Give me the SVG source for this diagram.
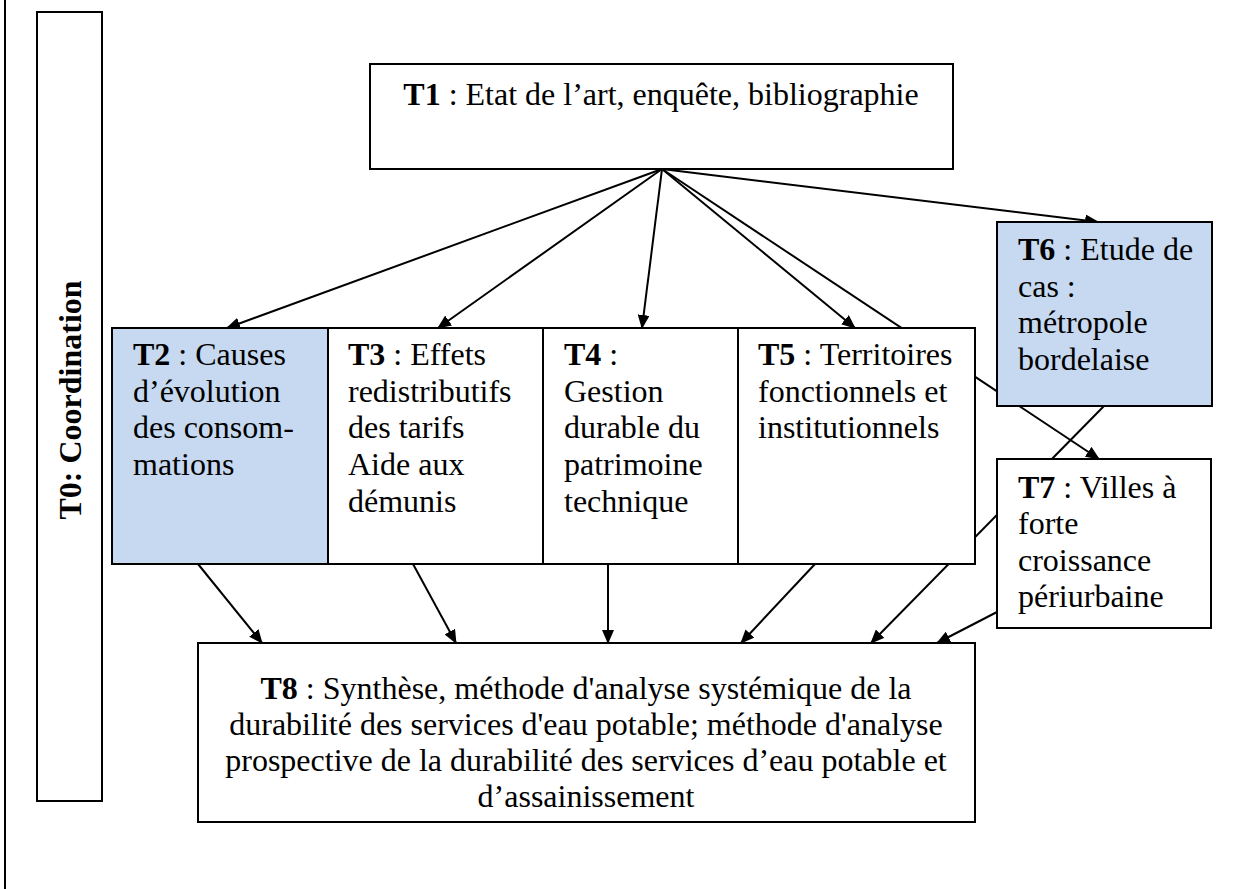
<svg xmlns="http://www.w3.org/2000/svg" width="1245" height="889" viewBox="0 0 1245 889">
  <style>
    .box { fill: #ffffff; stroke: #000000; stroke-width: 2; }
    .blue { fill: #c6d9f1; }
    .t { font-family: "Liberation Serif", "Times New Roman", serif; font-size: 32px; fill: #000000; }
    .b { font-weight: bold; }
    .c { stroke: #000000; stroke-width: 2; fill: none; }
    .ca { stroke: #000000; stroke-width: 2; fill: none; marker-end: url(#ah); }
  </style>
  <defs>
    <marker id="ah" viewBox="0 0 14 12" refX="13" refY="6" markerWidth="14" markerHeight="12" markerUnits="userSpaceOnUse" orient="auto">
      <path d="M0,0 L14,6 L0,12 z" fill="#000000"/>
    </marker>
  </defs>
  <rect width="1245" height="889" fill="#ffffff"/>
  <line x1="5" y1="0" x2="5" y2="889" stroke="#000000" stroke-width="2"/>

  <g id="connectors">
    <line class="ca" x1="662" y1="169" x2="227" y2="328"/>
    <line class="ca" x1="662" y1="169" x2="438" y2="328"/>
    <line class="ca" x1="662" y1="169" x2="642" y2="328"/>
    <line class="ca" x1="662" y1="169" x2="855" y2="328"/>
    <line class="ca" x1="662" y1="169" x2="1098" y2="222"/>
    <line class="ca" x1="662" y1="169" x2="1099" y2="459"/>
    <line class="ca" x1="198" y1="564" x2="262" y2="643"/>
    <line class="ca" x1="413" y1="564" x2="456" y2="643"/>
    <line class="ca" x1="608" y1="564" x2="608" y2="643"/>
    <line class="ca" x1="815" y1="564" x2="741" y2="643"/>
    <line class="ca" x1="1104" y1="406" x2="871" y2="643"/>
    <line class="ca" x1="997" y1="612" x2="937" y2="643"/>
  </g>

  <g id="T0">
    <rect class="box" x="37" y="12" width="65" height="789"/>
    <text class="t b" transform="translate(81,400) rotate(-90)" text-anchor="middle">T0: Coordination</text>
  </g>

  <g id="T1">
    <rect class="box" x="370" y="64" width="583" height="105"/>
    <text class="t" x="661" y="105" text-anchor="middle"><tspan class="b">T1</tspan> : Etat de l’art, enquête, bibliographie</text>
  </g>

  <g id="T2">
    <rect class="box blue" x="112" y="328" width="216" height="236"/>
    <text class="t" x="133" y="365"><tspan class="b">T2</tspan> : Causes</text>
    <text class="t" x="133" y="402">d’évolution</text>
    <text class="t" x="133" y="438">des consom-</text>
    <text class="t" x="133" y="475">mations</text>
  </g>

  <g id="T3">
    <rect class="box" x="328" y="328" width="215" height="236"/>
    <text class="t" x="348" y="365"><tspan class="b">T3</tspan> : Effets</text>
    <text class="t" x="348" y="402">redistributifs</text>
    <text class="t" x="348" y="438">des tarifs</text>
    <text class="t" x="348" y="475">Aide aux</text>
    <text class="t" x="348" y="512">démunis</text>
  </g>

  <g id="T4">
    <rect class="box" x="543" y="328" width="195" height="236"/>
    <text class="t" x="564" y="365"><tspan class="b">T4</tspan> :</text>
    <text class="t" x="564" y="402">Gestion</text>
    <text class="t" x="564" y="438">durable du</text>
    <text class="t" x="564" y="475">patrimoine</text>
    <text class="t" x="564" y="512">technique</text>
  </g>

  <g id="T5">
    <rect class="box" x="738" y="328" width="237" height="236"/>
    <text class="t" x="758" y="365"><tspan class="b">T5</tspan> : Territoires</text>
    <text class="t" x="758" y="402">fonctionnels et</text>
    <text class="t" x="758" y="438">institutionnels</text>
  </g>

  <g id="T6">
    <rect class="box blue" x="997" y="222" width="215" height="184"/>
    <text class="t" x="1018" y="260"><tspan class="b">T6</tspan> : Etude de</text>
    <text class="t" x="1018" y="297">cas :</text>
    <text class="t" x="1018" y="333">métropole</text>
    <text class="t" x="1018" y="370">bordelaise</text>
  </g>

  <g id="T7">
    <rect class="box" x="997" y="459" width="214" height="169"/>
    <text class="t" x="1018" y="498"><tspan class="b">T7</tspan> : Villes à</text>
    <text class="t" x="1018" y="534">forte</text>
    <text class="t" x="1018" y="571">croissance</text>
    <text class="t" x="1018" y="607">périurbaine</text>
  </g>

  <g id="T8">
    <rect class="box" x="198" y="643" width="777" height="179"/>
    <text class="t" x="586" y="699" text-anchor="middle"><tspan class="b">T8</tspan> : Synthèse, méthode d'analyse systémique de la</text>
    <text class="t" x="586" y="735" text-anchor="middle">durabilité des services d'eau potable; méthode d'analyse</text>
    <text class="t" x="586" y="771" text-anchor="middle">prospective de la durabilité des services d’eau potable et</text>
    <text class="t" x="586" y="807" text-anchor="middle">d’assainissement</text>
  </g>
</svg>
